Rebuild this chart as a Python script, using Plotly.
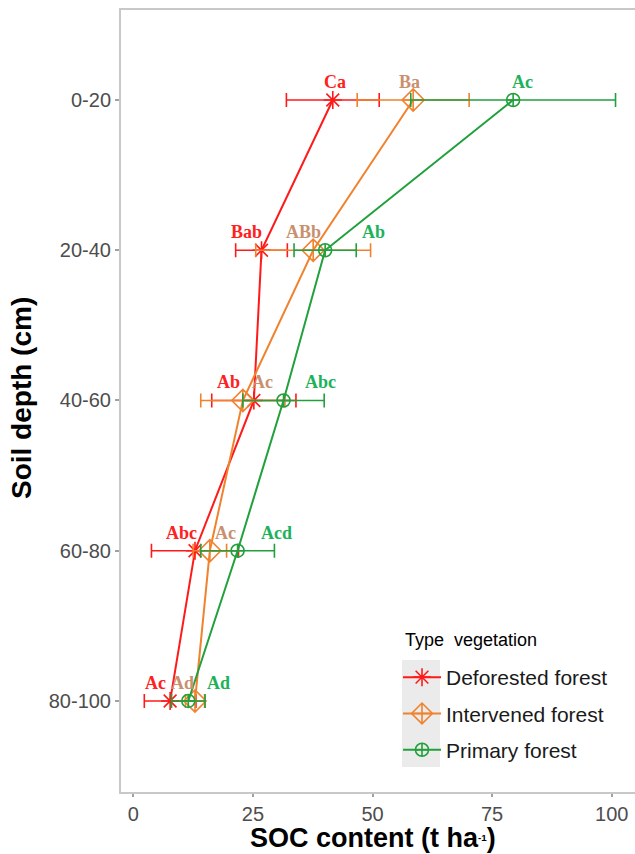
import plotly.graph_objects as go

# Soil depth classes (cm)
depths = ["0-20", "20-40", "40-60", "60-80", "80-100"]

# Mean SOC content (t ha-1) and error half-widths per vegetation type
soc_deforested = [41.7, 26.8, 25.2, 12.9, 7.7]
err_deforested = [9.7, 5.4, 8.8, 9.1, 5.4]

soc_intervened = [58.5, 37.6, 22.9, 16.0, 12.9]
err_intervened = [11.7, 12.0, 8.8, 3.5, 2.0]

soc_primary = [79.4, 40.1, 31.4, 21.8, 11.5]
err_primary = [21.4, 6.5, 8.5, 7.7, 3.5]

# Significance letters
letters_deforested = ["Ca", "Bab", "Ab", "Abc", "Ac"]
letters_intervened = ["Ba", "ABb", "Ac", "Ac", "Ad"]
letters_primary = ["Ac", "Ab", "Abc", "Acd", "Ad"]

series_names = ["Deforested forest", "Intervened forest", "Primary forest"]

# Horizontal nudges (px) so the letters do not overlap
nudge_deforested = [2, -15, -25, -14, -15]
nudge_intervened = [-4, -10, 20, 16, -13]
nudge_primary = [9, 48, 37, 39, 30]

W, H = 635, 854
ML, MR, MT, MB = 121, 0, 10, 62

line_colors = ["#FF1A1A", "#F0822E", "#22A03C"]
label_colors = ["#FF2020", "#C9906F", "#1DB25A"]
symbols = ["asterisk-open", "diamond-cross-open", "circle-cross-open"]
msizes = [15, 17, 13]

series = [
    (soc_deforested, err_deforested, letters_deforested, nudge_deforested),
    (soc_intervened, err_intervened, letters_intervened, nudge_intervened),
    (soc_primary, err_primary, letters_primary, nudge_primary),
]

SANS = "Arial, Liberation Sans, sans-serif"

fig = go.Figure()
annotations = []
for i, (vals, errs, letters, nudges) in enumerate(series):
    fig.add_trace(go.Scatter(
        x=vals, y=depths, name=series_names[i],
        mode="lines+markers",
        legendgroup=series_names[i],
        line=dict(color=line_colors[i], width=2),
        marker=dict(symbol=symbols[i], size=msizes[i],
                    color=line_colors[i],
                    line=dict(color=line_colors[i], width=1.6)),
        error_x=dict(type="data", array=errs, symmetric=True,
                     color=line_colors[i], thickness=1.6, width=7),
    ))
    for v, d, t, dx in zip(vals, depths, letters, nudges):
        annotations.append(dict(
            x=v, y=d, xref="x", yref="y", text=f"<b>{t}</b>",
            showarrow=False, xshift=dx, yshift=18,
            font=dict(family="Liberation Serif, Times New Roman, serif",
                      size=18, color=label_colors[i]),
        ))

pw = W - ML - MR
ph = H - MT - MB

def px_x(px):
    return (px - ML) / pw

def px_y(py):
    return (H - MB - py) / ph

# Axis titles
annotations.append(dict(
    x=px_x(373), y=px_y(838), xref="paper", yref="paper",
    text="<b>SOC content (t ha<span style='font-size:14px'><sup>-1</sup></span>)</b>",
    showarrow=False, xanchor="center", yanchor="middle",
    font=dict(family=SANS, size=27, color="black"),
))
annotations.append(dict(
    x=px_x(21), y=px_y(398), xref="paper", yref="paper",
    text="<b>Soil depth (cm)</b>", showarrow=False, textangle=-90,
    xanchor="center", yanchor="middle",
    font=dict(family=SANS, size=28, color="black"),
))

# Legend title
annotations.append(dict(
    x=px_x(403), y=px_y(640), xref="paper", yref="paper",
    text="Type&nbsp; vegetation", showarrow=False,
    xanchor="left", yanchor="middle",
    font=dict(family=SANS, size=18, color="black"),
))

# Grey key background behind the legend symbols
shapes = [dict(
    type="rect", xref="paper", yref="paper",
    x0=px_x(402), x1=px_x(440), y0=px_y(767), y1=px_y(660),
    fillcolor="#EBEBEB", line=dict(width=0), layer="below",
)]

axis_font = dict(family=SANS, size=20, color="#4D4D4D")

fig.update_layout(
    width=W, height=H,
    margin=dict(l=ML, r=MR, t=MT, b=MB),
    paper_bgcolor="white", plot_bgcolor="white",
    annotations=annotations, shapes=shapes,
    legend=dict(
        font=dict(family=SANS, size=21, color="#1A1A1A"),
        x=px_x(398), y=px_y(657), xanchor="left", yanchor="top",
        bgcolor="rgba(0,0,0,0)", tracegroupgap=6, itemwidth=38,
    ),
    xaxis=dict(
        range=[-2.57, 104.87], tickvals=[0, 25, 50, 75, 100],
        showgrid=False, zeroline=False,
        showline=True, mirror=True, linecolor="#C8C8C8", linewidth=2,
        ticks="outside", ticklen=3, tickwidth=2, tickcolor="#A0A0A0",
        tickfont=axis_font,
    ),
    yaxis=dict(
        type="category", categoryarray=depths, range=[4.606, -0.599],
        showgrid=False, zeroline=False,
        showline=True, mirror=False, linecolor="#C8C8C8", linewidth=2,
        ticks="outside", ticklen=4, tickwidth=2, tickcolor="#A0A0A0",
        tickfont=axis_font,
    ),
)

fig.write_html("out.html")
